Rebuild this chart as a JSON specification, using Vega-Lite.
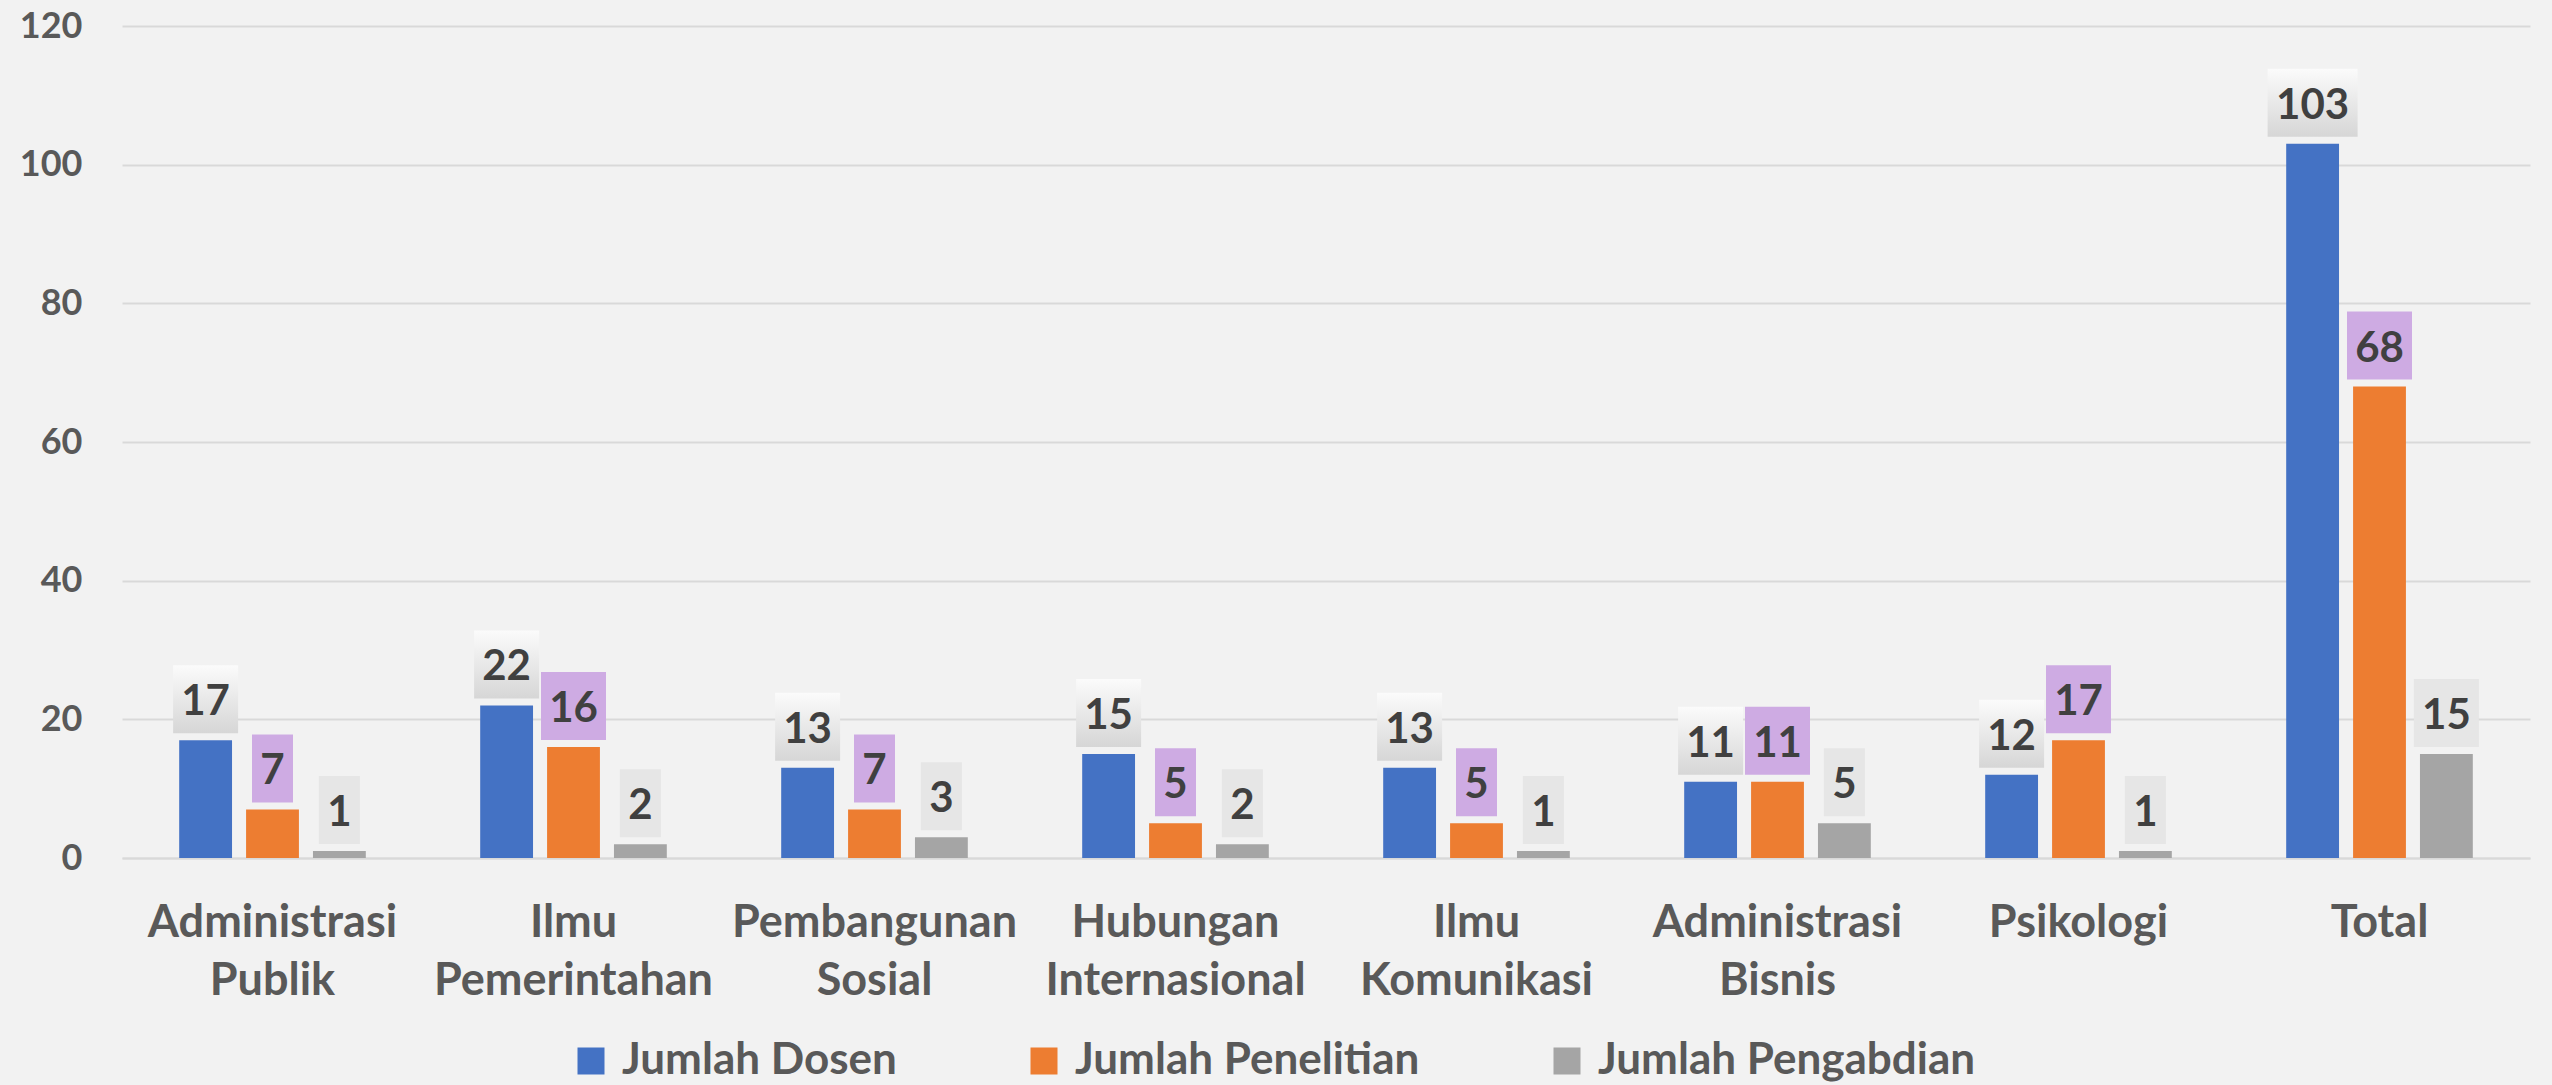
{
  "$schema": "https://vega.github.io/schema/vega-lite/v6.json",
  "width": 2408,
  "height": 832,
  "autosize": {"type": "none"},
  "padding": {"left": 122, "top": 26, "right": 22, "bottom": 227},
  "background": "#F2F2F2",
  "config": {
    "view": {"stroke": null},
    "font": "Lato",
    "axis": {"labelFont": "Lato", "labelFontWeight": "bold", "labelColor": "#595959", "labelLimit": 0},
    "legend": {"labelFont": "Lato", "labelFontWeight": "bold", "labelColor": "#595959", "labelLimit": 0}
  },
  "data": {
    "values": [
      {"prodi": "Administrasi Publik", "series": "Jumlah Dosen", "value": 17},
      {"prodi": "Administrasi Publik", "series": "Jumlah Penelitian", "value": 7},
      {"prodi": "Administrasi Publik", "series": "Jumlah Pengabdian", "value": 1},
      {"prodi": "Ilmu Pemerintahan", "series": "Jumlah Dosen", "value": 22},
      {"prodi": "Ilmu Pemerintahan", "series": "Jumlah Penelitian", "value": 16},
      {"prodi": "Ilmu Pemerintahan", "series": "Jumlah Pengabdian", "value": 2},
      {"prodi": "Pembangunan Sosial", "series": "Jumlah Dosen", "value": 13},
      {"prodi": "Pembangunan Sosial", "series": "Jumlah Penelitian", "value": 7},
      {"prodi": "Pembangunan Sosial", "series": "Jumlah Pengabdian", "value": 3},
      {"prodi": "Hubungan Internasional", "series": "Jumlah Dosen", "value": 15},
      {"prodi": "Hubungan Internasional", "series": "Jumlah Penelitian", "value": 5},
      {"prodi": "Hubungan Internasional", "series": "Jumlah Pengabdian", "value": 2},
      {"prodi": "Ilmu Komunikasi", "series": "Jumlah Dosen", "value": 13},
      {"prodi": "Ilmu Komunikasi", "series": "Jumlah Penelitian", "value": 5},
      {"prodi": "Ilmu Komunikasi", "series": "Jumlah Pengabdian", "value": 1},
      {"prodi": "Administrasi Bisnis", "series": "Jumlah Dosen", "value": 11},
      {"prodi": "Administrasi Bisnis", "series": "Jumlah Penelitian", "value": 11},
      {"prodi": "Administrasi Bisnis", "series": "Jumlah Pengabdian", "value": 5},
      {"prodi": "Psikologi", "series": "Jumlah Dosen", "value": 12},
      {"prodi": "Psikologi", "series": "Jumlah Penelitian", "value": 17},
      {"prodi": "Psikologi", "series": "Jumlah Pengabdian", "value": 1},
      {"prodi": "Total", "series": "Jumlah Dosen", "value": 103},
      {"prodi": "Total", "series": "Jumlah Penelitian", "value": 68},
      {"prodi": "Total", "series": "Jumlah Pengabdian", "value": 15}
    ]
  },
  "encoding": {
    "x": {
      "field": "prodi",
      "type": "nominal",
      "sort": null,
      "scale": {"paddingInner": 0.38, "paddingOuter": 0.19},
      "axis": {
        "title": null,
        "labelAngle": 0,
        "labelFontSize": 45,
        "labelLineHeight": 58,
        "labelBaseline": "top",
        "labelPadding": 42,
        "labelExpr": "split(datum.label, ' ')",
        "ticks": false,
        "domain": true,
        "domainColor": "#D9D9D9",
        "domainWidth": 2,
        "grid": false
      }
    },
    "xOffset": {
      "field": "series",
      "type": "nominal",
      "sort": ["Jumlah Dosen", "Jumlah Penelitian", "Jumlah Pengabdian"],
      "scale": {"paddingInner": 0.21, "paddingOuter": 0}
    },
    "y": {
      "field": "value",
      "type": "quantitative",
      "scale": {"domain": [0, 120], "nice": false},
      "axis": {
        "title": null,
        "values": [0, 20, 40, 60, 80, 100, 120],
        "labelFontSize": 36,
        "labelPadding": 40,
        "ticks": false,
        "domain": false,
        "grid": true,
        "gridColor": "#D9D9D9",
        "gridWidth": 2
      }
    }
  },
  "layer": [
    {
      "mark": {"type": "bar"},
      "encoding": {
        "color": {
          "field": "series",
          "type": "nominal",
          "sort": ["Jumlah Dosen", "Jumlah Penelitian", "Jumlah Pengabdian"],
          "scale": {
            "domain": ["Jumlah Dosen", "Jumlah Penelitian", "Jumlah Pengabdian"],
            "range": ["#4472C4", "#ED7D31", "#A5A5A5"]
          },
          "legend": {
            "title": null,
            "orient": "none",
            "direction": "horizontal",
            "legendX": 447,
            "legendY": 1013,
            "symbolType": "square",
            "symbolSize": 729,
            "symbolStrokeWidth": 0,
            "labelFontSize": 44,
            "labelOffset": 9,
            "columnPadding": 125,
            "padding": 0
          }
        }
      }
    },
    {
      "transform": [{"filter": "datum.series === 'Jumlah Dosen'"}],
      "mark": {
        "type": "bar",
        "yOffset": -75,
        "y2Offset": -7,
        "color": {
          "gradient": "linear",
          "x1": 0, "y1": 0, "x2": 0, "y2": 1,
          "stops": [
            {"offset": 0, "color": "#FBFBFB"},
            {"offset": 1, "color": "#D6D6D6"}
          ]
        }
      },
      "encoding": {
        "y2": {"field": "value"},
        "size": {
          "field": "value",
          "type": "quantitative",
          "scale": {"type": "threshold", "domain": [10, 100], "range": [41, 65, 90]},
          "legend": null
        }
      }
    },
    {
      "transform": [{"filter": "datum.series === 'Jumlah Penelitian'"}],
      "mark": {"type": "bar", "yOffset": -75, "y2Offset": -7, "color": "#CEABE3"},
      "encoding": {
        "y2": {"field": "value"},
        "size": {
          "field": "value",
          "type": "quantitative",
          "scale": {"type": "threshold", "domain": [10, 100], "range": [41, 65, 90]},
          "legend": null
        }
      }
    },
    {
      "transform": [{"filter": "datum.series === 'Jumlah Pengabdian'"}],
      "mark": {"type": "bar", "yOffset": -75, "y2Offset": -7, "color": "#E6E6E6"},
      "encoding": {
        "y2": {"field": "value"},
        "size": {
          "field": "value",
          "type": "quantitative",
          "scale": {"type": "threshold", "domain": [10, 100], "range": [41, 65, 90]},
          "legend": null
        }
      }
    },
    {
      "mark": {
        "type": "text",
        "font": "Lato",
        "fontWeight": "bold",
        "fontSize": 42,
        "color": "#404040",
        "baseline": "alphabetic",
        "dy": -25
      },
      "encoding": {
        "text": {"field": "value", "type": "quantitative"}
      }
    }
  ]
}
